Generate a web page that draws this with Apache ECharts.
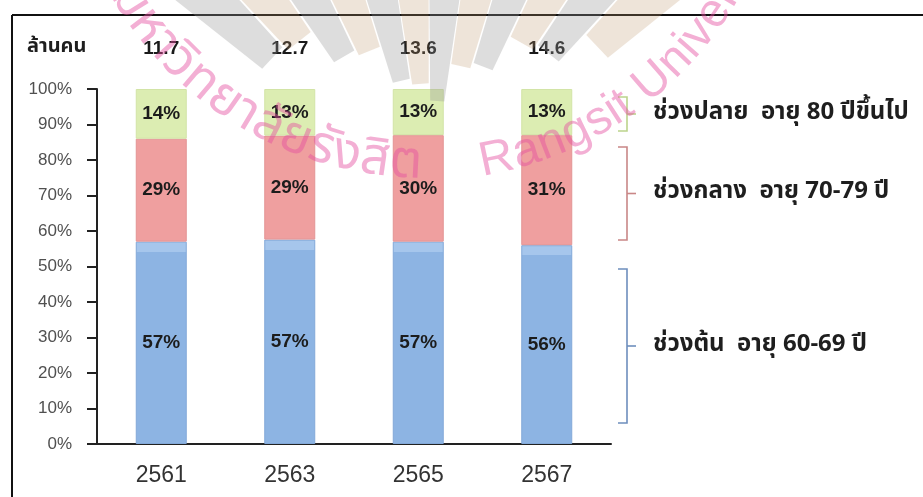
<!DOCTYPE html>
<html><head><meta charset="utf-8">
<script src="https://cdn.jsdelivr.net/npm/echarts@6/dist/echarts.min.js"></script>
<style>html,body{margin:0;padding:0;background:#fff}#c{width:923px;height:497px}</style>
</head><body><div id="c"></div>
<script>
// ---- data ----
const categories = ['2561', '2563', '2565', '2567'];
const totals = ['11.7', '12.7', '13.6', '14.6'];
const earlyAge = [57, 57, 57, 56];   // ช่วงต้น อายุ 60-69 ปี
const middleAge = [29, 29, 30, 31];  // ช่วงกลาง อายุ 70-79 ปี
const lateAge = [14, 13, 13, 13];    // ช่วงปลาย อายุ 80 ปีขึ้นไป
const seriesNames = ['ช่วงต้น  อายุ 60-69 ปี', 'ช่วงกลาง  อายุ 70-79 ปี', 'ช่วงปลาย  อายุ 80 ปีขึ้นไป'];
const unitLabel = 'ล้านคน';
const yTicks = [0, 100, 10];

// ---- chart ----
const FONT = '"Liberation Sans", Arial, sans-serif';
const THAI = '"Noto Sans Thai", "Loma", "Garuda", "Noto Sans", "Liberation Sans", sans-serif';
const sums = categories.map((_, i) => earlyAge[i] + middleAge[i] + lateAge[i]);
const toData = arr => arr.map((v, i) => ({ value: v / sums[i] * 100, raw: v }));

const chart = echarts.init(document.getElementById('c'), null, { renderer: 'canvas' });

const labelCfg = {
  show: true, position: 'inside', formatter: p => p.data.raw + '%',
  color: '#1c1c1c', fontWeight: 'bold', fontSize: 19, fontFamily: FONT
};
const blueFill = new echarts.graphic.LinearGradient(0, 0, 0, 1, [
  { offset: 0, color: '#a6c6ec' }, { offset: 0.05, color: '#a6c6ec' },
  { offset: 0.05, color: '#8db4e3' }, { offset: 1, color: '#8db4e3' }
]);

// watermark helpers
const mctx = document.createElement('canvas').getContext('2d');
function measure(t, size, fam) { mctx.font = size + 'px ' + fam; return mctx.measureText(t).width; }
const WM_C = [424, -183];
const WM_COLOR = 'rgba(229,77,159,0.45)';
function arcText(clusters, startDeg, endDeg, r, size, fam) {
  const ws = clusters.map(c => measure(c, size, fam));
  let natural = 0;
  for (let i = 0; i < ws.length - 1; i++) natural += ws[i] / 2 + ws[i + 1] / 2;
  const extra = endDeg == null ? 0 : ((startDeg - endDeg) * Math.PI / 180 * r - natural) / (ws.length - 1);
  const out = [];
  let acc = 0;
  for (let i = 0; i < clusters.length; i++) {
    if (i > 0) acc += ws[i - 1] / 2 + ws[i] / 2 + extra;
    const th = startDeg - acc / r * 180 / Math.PI;
    const rad = th * Math.PI / 180;
    out.push({
      type: 'text', z: 200, silent: true,
      x: WM_C[0] + r * Math.cos(rad), y: WM_C[1] + r * Math.sin(rad),
      rotation: (90 - th) * Math.PI / 180,
      style: { text: clusters[i], fill: WM_COLOR, font: size + 'px ' + fam,
        align: 'center', verticalAlign: 'middle', textAlign: 'center', textVerticalAlign: 'middle' }
    });
  }
  return out;
}
const thaiClusters = ['ม', 'ห', 'า', 'วิ', 'ท', 'ย', 'า', 'ลั', 'ย', 'รั', 'ง', 'สิ', 'ต'];
const engClusters = 'Rangsit University'.split('');
function rays() {
  const out = [];
  const c = [430, 205];
  let k = 0;
  for (let a = -137; a <= -43; a += 8.5, k++) {
    const rin = 100 + 2.6 * Math.abs(a + 90) + (k % 2 ? 10 : -6);
    const rout = 420, h = 3.9;
    const p = (r, d) => [c[0] + r * Math.cos(d * Math.PI / 180), c[1] + r * Math.sin(d * Math.PI / 180)];
    out.push({
      type: 'polygon', z: 150, silent: true,
      shape: { points: [p(rin, a - h), p(rout, a - h * 1.1), p(rout, a + h * 1.1), p(rin, a + h)] },
      style: { fill: k % 2 ? 'rgba(190,150,110,0.26)' : 'rgba(150,150,150,0.32)' }
    });
  }
  return out;
}

function bracket(y1, y2, color, label) {
  const ym = (y1 + y2) / 2;
  return [
    { type: 'polyline', shape: { points: [[618, y1], [627, y1], [627, y2], [618, y2]] },
      style: { stroke: color, lineWidth: 1.6, fill: null } },
    { type: 'line', shape: { x1: 627, y1: ym, x2: 636, y2: ym }, style: { stroke: color, lineWidth: 1.6 } },
    { type: 'text', x: 653, y: ym,
      style: { text: label, fill: '#1e1e1e', font: 'bold 24px ' + THAI,
        verticalAlign: 'middle', textVerticalAlign: 'middle' } }
  ];
}

const graphics = [
  { type: 'line', shape: { x1: 12, y1: 15, x2: 923, y2: 15 }, style: { stroke: '#111', lineWidth: 2 } },
  { type: 'line', shape: { x1: 12, y1: 15, x2: 12, y2: 497 }, style: { stroke: '#111', lineWidth: 2 } },
  { type: 'text', x: 27, y: 48,
    style: { text: unitLabel, fill: '#1e1e1e', font: 'bold 20px ' + THAI,
      verticalAlign: 'middle', textVerticalAlign: 'middle' } },
  ...bracket(97, 131, '#bcd48c', seriesNames[2]),
  ...bracket(147, 240, '#c98787', seriesNames[1]),
  ...bracket(269, 423, '#6e8ebd', seriesNames[0]),
  ...rays(),
  ...arcText(thaiClusters, 148, 93, 350, 52, THAI),
  ...arcText(engClusters, 78, null, 350, 48, FONT)
];

chart.setOption({
  animation: false,
  backgroundColor: '#fff',
  grid: { left: 97, right: 312, top: 89, bottom: 53 },
  xAxis: [
    { type: 'category', data: categories, position: 'bottom',
      axisLine: { lineStyle: { color: '#222', width: 2 } },
      axisTick: { length: 10, lineStyle: { color: '#222', width: 2 } },
      axisLabel: { color: '#333', fontSize: 23, margin: 20, fontFamily: FONT } },
    { type: 'category', data: totals, position: 'top',
      axisLine: { show: false }, axisTick: { show: false },
      axisLabel: { color: '#1a1a1a', fontSize: 19, fontWeight: 'bold', margin: 31, fontFamily: FONT } }
  ],
  yAxis: {
    type: 'value', min: yTicks[0], max: yTicks[1], interval: yTicks[2],
    axisLine: { show: true, lineStyle: { color: '#222', width: 2 } },
    axisTick: { show: true, length: 10, lineStyle: { color: '#222', width: 2 } },
    axisLabel: { formatter: '{value}%', color: '#505050', fontSize: 17, margin: 25, fontFamily: FONT },
    splitLine: { show: false }
  },
  series: [
    { name: seriesNames[0], type: 'bar', stack: 'total', barWidth: 51, data: toData(earlyAge),
      itemStyle: { color: blueFill, borderColor: '#82a8d8', borderWidth: 1 }, label: labelCfg },
    { name: seriesNames[1], type: 'bar', stack: 'total', barWidth: 51, data: toData(middleAge),
      itemStyle: { color: '#ef9f9f', borderColor: '#e39494', borderWidth: 1 }, label: labelCfg },
    { name: seriesNames[2], type: 'bar', stack: 'total', barWidth: 51, data: toData(lateAge),
      itemStyle: { color: '#dcedb2', borderColor: '#d2e4a6', borderWidth: 1 }, label: labelCfg }
  ],
  graphic: { elements: graphics }
});
</script></body></html>
